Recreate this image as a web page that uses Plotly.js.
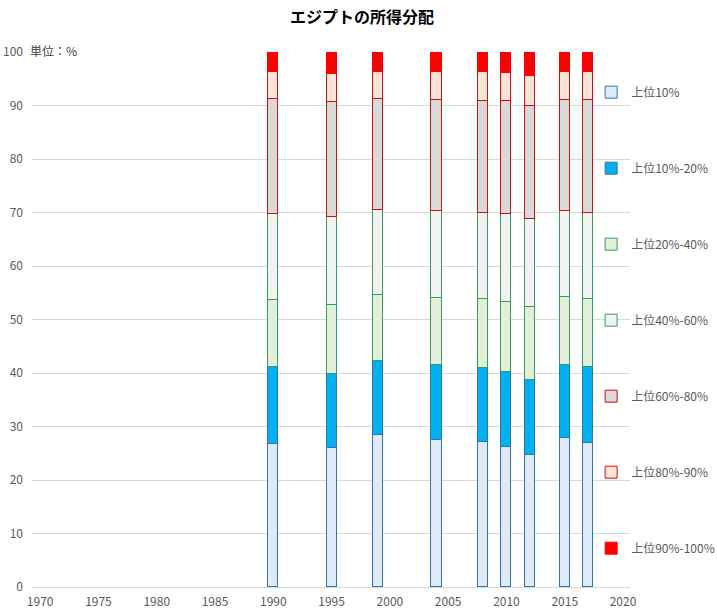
<!DOCTYPE html>
<html><head><meta charset="utf-8">
<script src="https://cdn.plot.ly/plotly-3.0.1.min.js"></script>
<style>html,body{margin:0;padding:0;background:#fff;}#chart{width:717px;height:612px;}</style>
</head><body><div id="chart"></div>
<script>
const years = [1990, 1995, 1999, 2004, 2008, 2010, 2012, 2015, 2017];
const seriesNames = ["上位10%", "上位10%-20%", "上位20%-40%", "上位40%-60%", "上位60%-80%", "上位80%-90%", "上位90%-100%"];
const top10     = [26.7, 25.9, 28.4, 27.4, 27.1, 26.1, 24.6, 27.8, 26.9];
const top10_20  = [14.4, 14.0, 13.8, 14.1, 13.8, 14.0, 14.0, 13.7, 14.2];
const top20_40  = [12.5, 12.9, 12.3, 12.6, 12.9, 13.1, 13.7, 12.8, 12.7];
const top40_60  = [16.2, 16.4, 15.9, 16.1, 16.2, 16.5, 16.5, 15.9, 16.2];
const top60_80  = [21.5, 21.4, 20.8, 20.8, 20.8, 21.1, 21.2, 20.8, 21.0];
const top80_90  = [4.9, 5.2, 5.0, 5.2, 5.4, 5.2, 5.6, 5.2, 5.2];
const top90_100 = [3.8, 4.2, 3.8, 3.8, 3.8, 4.0, 4.4, 3.8, 3.8];
const xTicks = [1970, 1975, 1980, 1985, 1990, 1995, 2000, 2005, 2010, 2015, 2020];
const yTicks = [0, 10, 20, 30, 40, 50, 60, 70, 80, 90, 100];

const allValues = [top10, top10_20, top20_40, top40_60, top60_80, top80_90, top90_100];
const fills = ["#DEEBF7", "#00B0F0", "#E2F0D9", "#F2F2F2", "#D9D9D9", "#FBE5D6", "#FF0000"];
const lines = ["#2E75B6", "#2E75B6", "#2EA05A", "#2EA05A", "#D01010", "#D01010", "#FF0000"];

const traces = allValues.map((v, i) => ({
  type: "bar", x: years, y: v, name: seriesNames[i], width: 0.86,
  legendgroup: "g" + i,
  marker: {color: fills[i], line: {color: lines[i], width: 1}},
  hoverinfo: "x+y+name"
}));

const font = "'Noto Sans CJK JP', 'Noto Sans', sans-serif";
const layout = {
  width: 717, height: 612,
  margin: {l: 32, r: 87, t: 52, b: 25, autoexpand: false},
  barmode: "stack",
  paper_bgcolor: "#fff", plot_bgcolor: "#fff",
  font: {family: font, size: 12, color: "#595959"},
  title: {text: "<b>エジプトの所得分配</b>", x: 0.505, xref: "container", xanchor: "center", y: 0.972, yanchor: "middle",
          font: {family: font, size: 16, color: "#000"}},
  xaxis: {range: [1969.3, 2020.6], tickvals: xTicks, ticktext: xTicks.map(String),
          showgrid: false, zeroline: false, showline: false, ticks: "", ticklen: 0, ticklabelstandoff: 6,
          tickfont: {size: 12, color: "#595959"}},
  yaxis: {range: [0, 100], tickvals: yTicks, ticktext: yTicks.map(String),
          showgrid: true, gridcolor: "#D9D9D9", gridwidth: 1, zeroline: true, zerolinecolor: "#D9D9D9",
          showline: false, ticks: "", ticklabelstandoff: 8, tickfont: {size: 12, color: "#595959"}},
  legend: {x: 0.935, xanchor: "left", y: 0.952, yanchor: "top", traceorder: "grouped",
           tracegroupgap: 57, itemwidth: 30, font: {size: 12, color: "#595959"}, bgcolor: "rgba(0,0,0,0)"},
  annotations: [{text: "単位：%", xref: "paper", yref: "paper", x: 0, y: 1, xanchor: "left", yanchor: "middle",
                 xshift: -4, yshift: 2, showarrow: false, font: {size: 12, color: "#404040"}}],
  bargap: 0
};
Plotly.newPlot("chart", traces, layout, {displayModeBar: false});
</script>
</body></html>
